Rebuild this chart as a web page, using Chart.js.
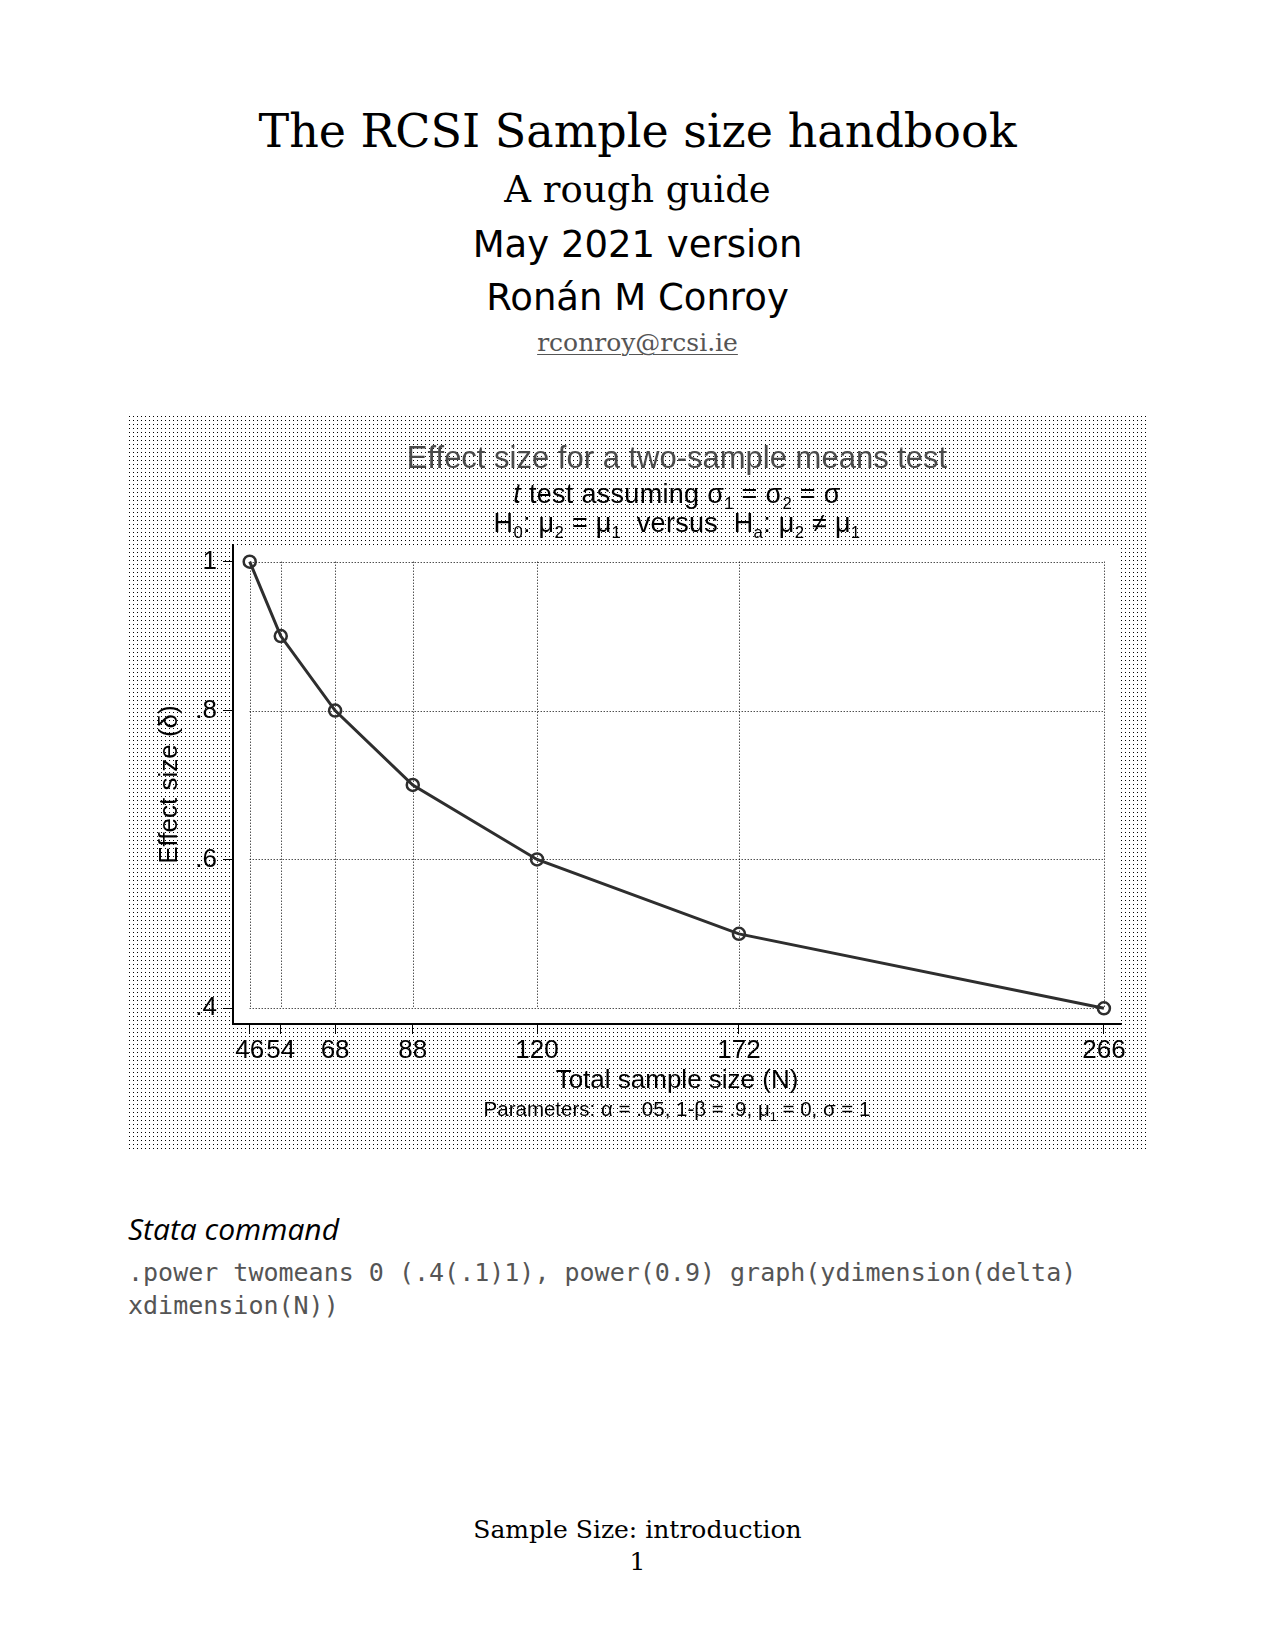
<!DOCTYPE html>
<html>
<head>
<meta charset="utf-8">
<script src="https://cdn.jsdelivr.net/npm/chart.js@4.4.1/dist/chart.umd.min.js"></script>
<style>
  html, body { margin: 0; padding: 0; background: #fff; }
  body { width: 1275px; height: 1650px; position: relative; overflow: hidden; }
  .abs { position: absolute; white-space: nowrap; }
  .center { left: 0; width: 1275px; text-align: center; }
  .serif { font-family: "DejaVu Serif", serif; color: #000; }
  .sans { font-family: "DejaVu Sans", sans-serif; color: #000; }
  #wrap { position: absolute; left: 128px; top: 415px; width: 1019px; height: 737px; }
  #wrap canvas { position: absolute; left: 0; top: 0; }
  .ctext { position: absolute; left: 105px; width: 888px; text-align: center; white-space: nowrap;
           font-family: "Liberation Sans", Arial, sans-serif; color: #000; }
  .ctext sub { font-size: 0.62em; vertical-align: -0.38em; line-height: 0; }
</style>
</head>
<body>
<div class="abs center serif" style="top:108px; font-size:46px; line-height:46px;">The RCSI Sample size handbook</div>
<div class="abs center serif" style="top:171px; font-size:37px; line-height:37px;">A rough guide</div>
<div class="abs center sans" style="top:226px; font-size:37px; line-height:37px;">May 2021 version</div>
<div class="abs center sans" style="top:279px; font-size:37px; line-height:37px;">Ronán M Conroy</div>
<div class="abs center serif" style="top:330px; font-size:25px; line-height:25px; color:#555; text-decoration:underline; text-decoration-thickness:1px; text-underline-offset:3px;">rconroy@rcsi.ie</div>

<div id="wrap">
  <canvas id="chart" width="1019" height="737"></canvas>
  <div class="ctext" style="top:66px; font-size:27px; line-height:27px; letter-spacing:0.3px;"><i>t</i> test assuming σ<sub>1</sub> = σ<sub>2</sub> = σ</div>
  <div class="ctext" style="top:95px; font-size:27px; line-height:27px; letter-spacing:0.3px;">H<sub>0</sub>: μ<sub>2</sub> = μ<sub>1</sub>&nbsp; versus &nbsp;H<sub>a</sub>: μ<sub>2</sub> ≠ μ<sub>1</sub></div>
  <div class="ctext" style="top:684px; font-size:20.5px; line-height:20.5px;">Parameters: α = .05, 1-β = .9, μ<sub>1</sub> = 0, σ = 1</div>
</div>

<div class="abs" style="left:128px; top:1214px; font-family:'Open Sans', sans-serif; font-style:italic; font-size:30px; line-height:30px; color:#000;">Stata command</div>
<div class="abs" style="left:128px; top:1260px; font-family:'DejaVu Sans Mono', monospace; font-size:25px; line-height:25px; color:#555;">.power twomeans 0 (.4(.1)1), power(0.9) graph(ydimension(delta)</div>
<div class="abs" style="left:128px; top:1293px; font-family:'DejaVu Sans Mono', monospace; font-size:25px; line-height:25px; color:#555;">xdimension(N))</div>

<div class="abs center serif" style="top:1517px; font-size:25px; line-height:25px;">Sample Size: introduction</div>
<div class="abs center serif" style="top:1549px; font-size:25px; line-height:25px;">1</div>

<script>
// ---- data ----
const sampleSizes = [46, 54, 68, 88, 120, 172, 266];
const effectSizes = [1, 0.9, 0.8, 0.7, 0.6, 0.5, 0.4];
const xTickValues = [46, 54, 68, 88, 120, 172, 266];
const xTickLabels = ['46', '54', '68', '88', '120', '172', '266'];
const yTickValues = [0.4, 0.6, 0.8, 1];
const yTickLabels = ['.4', '.6', '.8', '1'];

// dotted background pattern for the graph region
(function () {
  const p = document.createElement('canvas');
  p.width = 4; p.height = 4;
  const pc = p.getContext('2d');
  pc.fillStyle = '#000';
  pc.fillRect(1, 1, 1, 1);
  document.getElementById('wrap').style.backgroundImage = 'url(' + p.toDataURL() + ')';
})();

const FONT = '"Liberation Sans", Arial, sans-serif';

const plotDecor = {
  id: 'plotDecor',
  beforeDraw(chart) {
    const { ctx, chartArea: a } = chart;
    ctx.save();
    ctx.fillStyle = '#fff';
    ctx.fillRect(a.left, a.top, a.right - a.left, a.bottom - a.top);
    ctx.restore();
  },
  beforeDatasetsDraw(chart) {
    const { ctx, scales: { x, y } } = chart;
    const xa = x.getPixelForValue(xTickValues[0]);
    const xb = x.getPixelForValue(xTickValues[xTickValues.length - 1]);
    const ya = y.getPixelForValue(yTickValues[0]);
    const yb = y.getPixelForValue(yTickValues[yTickValues.length - 1]);
    ctx.save();
    ctx.strokeStyle = '#000';
    ctx.lineWidth = 1;
    ctx.setLineDash([1, 2]);
    ctx.beginPath();
    yTickValues.forEach(v => {
      const py = Math.round(y.getPixelForValue(v)) + 0.5;
      ctx.moveTo(xa, py); ctx.lineTo(xb, py);
    });
    xTickValues.forEach(v => {
      const px = Math.round(x.getPixelForValue(v)) + 0.5;
      ctx.moveTo(px, yb); ctx.lineTo(px, ya);
    });
    ctx.stroke();
    ctx.restore();
  }
};

new Chart(document.getElementById('chart'), {
  type: 'scatter',
  data: {
    datasets: [{
      data: sampleSizes.map((n, i) => ({ x: n, y: effectSizes[i] })),
      showLine: true,
      borderColor: '#2e2e2e',
      borderWidth: 3,
      tension: 0,
      pointRadius: 6,
      pointBorderWidth: 2.5,
      pointBorderColor: '#2e2e2e',
      pointBackgroundColor: 'rgba(0,0,0,0)',
      pointStyle: 'circle'
    }]
  },
  options: {
    responsive: false,
    animation: false,
    layout: { padding: { left: 0, right: 26, top: 0, bottom: 0 } },
    plugins: {
      legend: { display: false },
      tooltip: { enabled: false },
      title: {
        display: true,
        text: 'Effect size for a two-sample means test',
        color: '#4a4a4a',
        fullSize: false,
        align: 'center',
        font: { family: FONT, size: 31, weight: 'normal', lineHeight: 1.2 },
        padding: { top: 26, bottom: 66.8 }
      }
    },
    scales: {
      x: {
        type: 'linear',
        min: 41.7,
        max: 270.4,
        afterBuildTicks: s => { s.ticks = xTickValues.map(v => ({ value: v })); },
        afterFit: s => { s.height = 128; },
        ticks: {
          autoSkip: false,
          maxRotation: 0,
          minRotation: 0,
          padding: 1,
          color: '#000',
          font: { family: FONT, size: 26, lineHeight: 1.2 },
          callback: (v, i) => xTickLabels[i]
        },
        grid: { drawOnChartArea: false, drawTicks: true, tickLength: 10, color: '#000', lineWidth: 1 },
        border: { display: true, color: '#000', width: 2 },
        title: {
          display: true,
          text: 'Total sample size (N)',
          color: '#000',
          font: { family: FONT, size: 26, lineHeight: 1.2 },
          padding: { top: 0, bottom: 56 }
        }
      },
      y: {
        type: 'linear',
        min: 0.3789,
        max: 1.0224,
        afterBuildTicks: s => { s.ticks = yTickValues.map(v => ({ value: v })); },
        afterFit: s => { s.width = 105; },
        ticks: {
          padding: 6,
          color: '#000',
          font: { family: FONT, size: 26, lineHeight: 1.2 },
          callback: (v, i) => yTickLabels[i]
        },
        grid: { drawOnChartArea: false, drawTicks: true, tickLength: 10, color: '#000', lineWidth: 1 },
        border: { display: true, color: '#000', width: 2 },
        title: {
          display: true,
          text: 'Effect size (δ)',
          color: '#000',
          font: { family: FONT, size: 26, lineHeight: 1.2 },
          padding: { top: 26, bottom: 0 }
        }
      }
    }
  },
  plugins: [plotDecor]
});
</script>
</body>
</html>
